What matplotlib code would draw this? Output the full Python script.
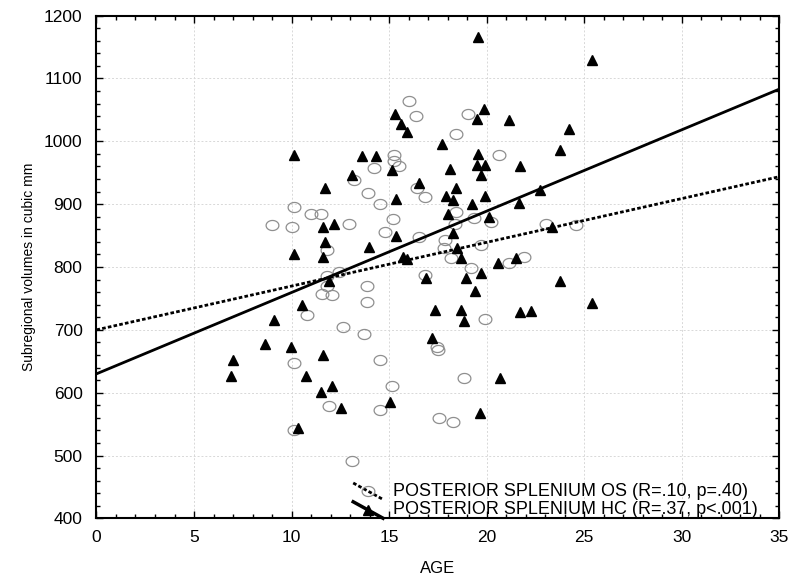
import numpy as np
import matplotlib
matplotlib.use('Agg')
import matplotlib.pyplot as plt
from matplotlib.path import Path
from matplotlib.lines import Line2D
from matplotlib.legend_handler import HandlerLine2D
from matplotlib.ticker import MultipleLocator

plt.rcParams['font.family'] = ['Liberation Sans', 'DejaVu Sans']

# OS group - open circles
os_age = [9.0, 10.0, 10.1, 10.1, 10.1, 10.8, 11.0, 11.5, 11.8, 11.8, 11.8, 11.55, 12.05, 11.9,
          12.45, 12.65, 12.95, 13.1, 13.2, 13.7, 13.85, 13.85, 13.9, 14.2, 14.55, 14.55, 14.55,
          14.8, 15.15, 15.2, 15.25, 15.25, 15.5, 16.0, 16.4, 16.45, 16.55, 16.85, 16.85, 17.45,
          17.5, 17.55, 17.85, 17.8, 18.15, 18.3, 18.4, 18.45, 18.45, 18.85, 19.05, 19.2, 19.35,
          19.7, 19.9, 20.2, 20.65, 21.15, 21.9, 23.05, 24.6]
os_vol = [866, 864, 895, 648, 541, 724, 885, 885, 827, 785, 769, 757, 755, 579,
          792, 704, 869, 491, 938, 693, 769, 745, 917, 957, 900, 652, 572,
          855, 611, 876, 978, 969, 961, 1064, 1040, 926, 848, 912, 788, 673,
          668, 560, 843, 830, 815, 553, 868, 888, 1011, 624, 1044, 798, 878,
          835, 717, 872, 978, 807, 816, 869, 867]

# HC group - filled triangles
hc_age = [6.9, 7.0, 8.65, 9.1, 9.95, 10.1, 10.1, 10.35, 10.55, 10.75, 11.5, 11.6, 11.6, 11.7,
          11.6, 11.7, 11.9, 12.05, 12.15, 12.55, 13.1, 13.6, 13.95, 14.35, 15.05, 15.15, 15.3,
          15.35, 15.35, 15.6, 15.7, 15.9, 15.9, 16.55, 16.9, 17.2, 17.35, 17.7, 17.9, 18.0,
          18.1, 18.3, 18.3, 18.45, 18.5, 18.7, 18.7, 18.85, 18.95, 19.25, 19.4, 19.5, 19.55,
          19.55, 19.5, 19.65, 19.7, 19.7, 19.85, 19.9, 19.9, 20.1, 20.6, 20.7, 21.15, 21.5,
          21.65, 21.7, 21.7, 22.25, 22.75, 23.35, 23.75, 23.75, 24.2, 25.4, 25.4]
hc_vol = [626, 652, 678, 716, 672, 820, 978, 544, 740, 627, 601, 660, 816, 840,
          864, 925, 777, 611, 869, 575, 947, 976, 832, 976, 585, 954, 1043,
          908, 849, 1027, 816, 1015, 813, 933, 782, 687, 732, 996, 913, 885,
          956, 906, 854, 925, 830, 815, 732, 714, 782, 900, 761, 1035, 1166,
          980, 962, 568, 947, 791, 1051, 913, 962, 880, 807, 623, 1033, 814,
          902, 961, 728, 730, 923, 864, 986, 777, 1019, 1129, 742]

# fitted lines: intercept, slope
os_fit = [700.0, 6.96]
hc_fit = [630.0, 12.94]

labels = ['POSTERIOR SPLENIUM OS (R=.10, p=.40)',
          'POSTERIOR SPLENIUM HC (R=.37, p<.001)']


class DiagHandler(HandlerLine2D):
    # legend sample drawn as a falling diagonal, like the original
    def create_artists(self, legend, orig_handle, xdescent, ydescent,
                       width, height, fontsize, trans):
        arts = super().create_artists(legend, orig_handle, xdescent, ydescent,
                                      width, height, fontsize, trans)
        for a in arts:
            n = len(a.get_ydata())
            a.set_ydata(np.linspace(height * 1.0, -height * 0.3, n))
        return arts


t = np.linspace(0, 2 * np.pi, 61)
ellipse = Path(np.column_stack([1.27 * np.cos(t), np.sin(t)]))

fig = plt.figure(figsize=(7.96, 5.81), dpi=100)
ax = fig.add_axes([0.1212, 0.1077, 0.8578, 0.8656])

ax.plot(os_age, os_vol, linestyle='none', marker=ellipse, ms=9.2,
        mfc='none', mec='#8f8f8f', mew=0.9, zorder=3)
ax.plot(hc_age, hc_vol, linestyle='none', marker='^', ms=7.5,
        color='black', zorder=4)

xs = np.array([0, 35])
dash = (0, (1.3, 0.8))
ax.plot(xs, os_fit[0] + os_fit[1] * xs, color='black', lw=2.0,
        linestyle=dash, dash_capstyle='butt', zorder=5)
ax.plot(xs, hc_fit[0] + hc_fit[1] * xs, color='black', lw=2.0, zorder=5)

ax.set_xlim(0, 35)
ax.set_ylim(400, 1200)
ax.xaxis.set_major_locator(MultipleLocator(5))
ax.xaxis.set_minor_locator(MultipleLocator(1))
ax.yaxis.set_major_locator(MultipleLocator(100))
ax.yaxis.set_minor_locator(MultipleLocator(20))
ax.tick_params(which='both', direction='in', top=True, right=True,
               labelsize=12.5, width=1)
ax.tick_params(which='major', length=5)
ax.tick_params(axis='y', which='major', pad=10)
ax.tick_params(axis='x', which='major', pad=8)
ax.tick_params(which='minor', length=3)
for s in ax.spines.values():
    s.set_linewidth(1.5)
ax.grid(True, which='major', color='#d8d8d8', linestyle=(0, (2, 2)), lw=0.7)
ax.set_axisbelow(True)

ax.set_xlabel('AGE', fontsize=12, labelpad=12)
ax.set_ylabel('Subregional volumes in cubic mm', fontsize=10, labelpad=6)

h_os = Line2D([], [], color='black', lw=2.0, linestyle=dash, dash_capstyle='butt',
              marker=ellipse, ms=9.2, mfc='none', mec='#8f8f8f', mew=0.9)
h_hc = Line2D([], [], color='black', lw=2.5, marker='^', ms=7.5)
leg = ax.legend([h_os, h_hc], labels, loc='lower left', bbox_to_anchor=(0.376, 0.0),
                frameon=False, fontsize=13, handlelength=1.65, handletextpad=0.55,
                labelspacing=0.1, borderaxespad=0, borderpad=0, numpoints=1,
                handler_map={h_os: DiagHandler(), h_hc: DiagHandler()})
leg.set_zorder(6)

plt.savefig('out.png', dpi=100)
